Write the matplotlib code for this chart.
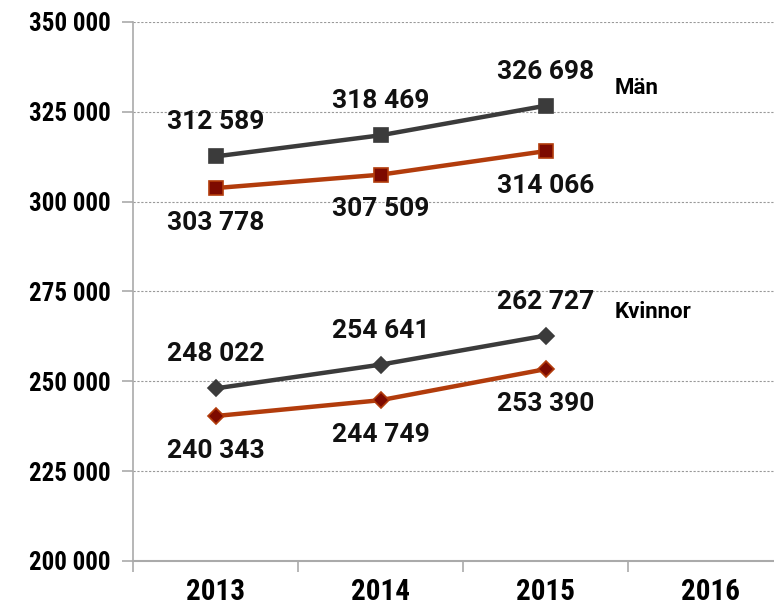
import matplotlib.pyplot as plt
from matplotlib.ticker import FuncFormatter

years = ['2013', '2014', '2015', '2016']
man_gray = [312589, 318469, 326698]
man_red = [303778, 307509, 314066]
kv_gray = [248022, 254641, 262727]
kv_red = [240343, 244749, 253390]
yticks = [200000, 225000, 250000, 275000, 300000, 325000, 350000]

GRAY = '#3b3b3b'
RED_LINE = '#b23c0c'
RED_FACE = '#7d0a00'

plt.rcParams['font.family'] = ['Liberation Sans Narrow', 'Roboto Condensed', 'Liberation Sans', 'DejaVu Sans']

fig = plt.figure(figsize=(7.74, 6.06), dpi=100)
ax = fig.add_axes([133 / 774, (606 - 561) / 606, 660 / 774, (561 - 22) / 606])

x = list(range(len(man_gray)))

def fmt(v):
    return f'{v:,}'.replace(',', ' ')

series = [
    (man_gray, GRAY, GRAY, GRAY, 's', 10, 24.5),
    (man_red, RED_LINE, RED_FACE, RED_LINE, 's', 10, -25),
    (kv_gray, GRAY, GRAY, GRAY, 'D', 8, 24.5),
    (kv_red, RED_LINE, RED_FACE, RED_LINE, 'D', 8, -25),
]
for vals, lc, fc, ec, mk, ms, off in series:
    ax.plot(x, vals, color=lc, lw=3.2, marker=mk, markersize=ms,
            markerfacecolor=fc, markeredgecolor=ec, markeredgewidth=1.2, zorder=3)
    for xi, v in zip(x, vals):
        ax.annotate(fmt(v), (xi, v), xytext=(0, off), textcoords='offset points',
                    ha='center', va='center', fontsize=19, fontweight='bold',
                    family=['Roboto', 'DejaVu Sans'], color='#111111')

ax.text(2.42, 331600, 'Män', fontsize=16, fontweight='bold',
        family=['Roboto', 'DejaVu Sans'], va='center', ha='left')
ax.text(2.42, 269300, 'Kvinnor', fontsize=16, fontweight='bold',
        family=['Roboto', 'DejaVu Sans'], va='center', ha='left')

ax.set_xlim(-0.5, 3.5)
ax.set_ylim(200000, 350000)
ax.set_yticks(yticks)
ax.yaxis.set_major_formatter(FuncFormatter(lambda v, p: fmt(int(v))))
ax.set_xticks([0, 1, 2, 3])
ax.set_xticklabels(years)
ax.set_xticks([-0.5, 0.5, 1.5, 2.5], minor=True)
ax.tick_params(axis='x', which='major', length=0, pad=12, labelsize=21)
ax.tick_params(axis='x', which='minor', length=8, color='#aaaaaa', width=1.2)
ax.tick_params(axis='y', length=8, color='#aaaaaa', width=1.2, labelsize=18, pad=8)
for lab in ax.get_xticklabels() + ax.get_yticklabels():
    lab.set_fontweight('bold')

ax.grid(axis='y', linestyle=(0, (2, 1.5)), color='#999999', lw=0.8)
ax.set_axisbelow(True)
for s in ['top', 'right']:
    ax.spines[s].set_visible(False)
ax.spines['left'].set_color('#aaaaaa')
ax.spines['left'].set_linewidth(1.2)
ax.spines['bottom'].set_color('#aaaaaa')
ax.spines['bottom'].set_linewidth(1.5)

fig.savefig('out.png', dpi=100)
